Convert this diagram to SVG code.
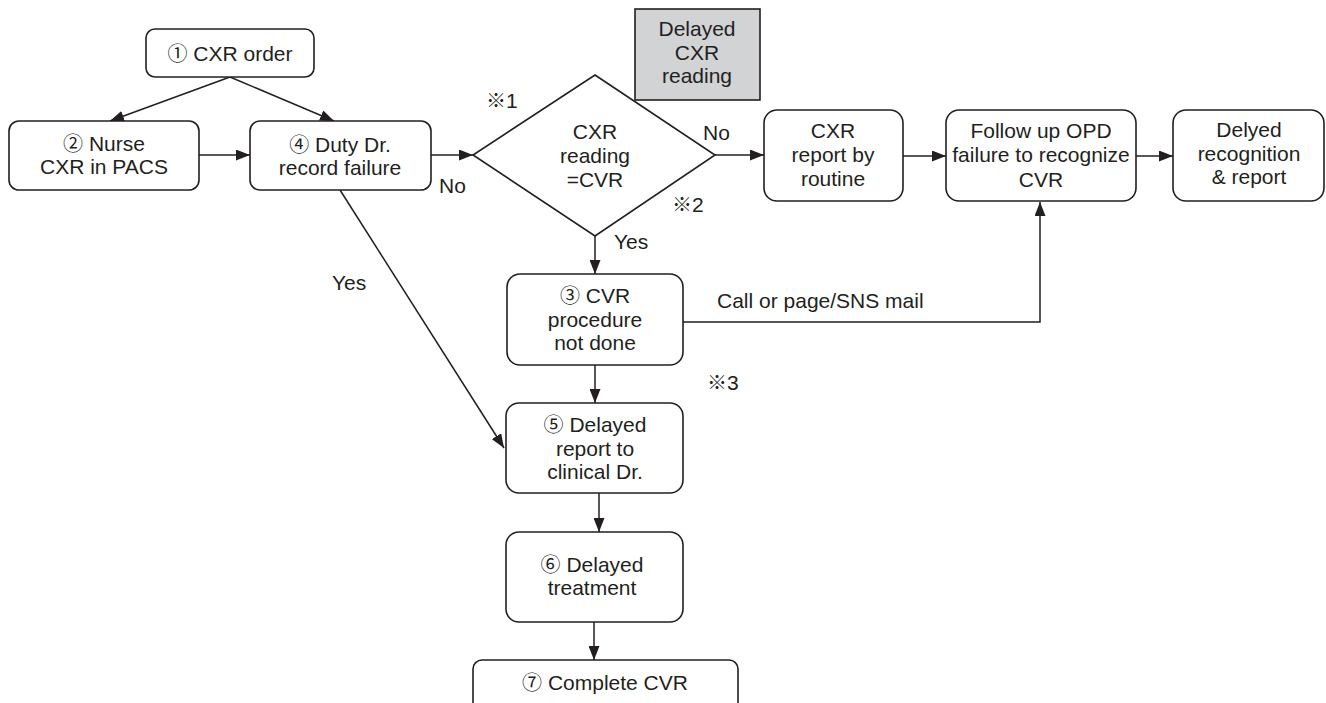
<svg xmlns="http://www.w3.org/2000/svg" width="1326" height="703" viewBox="0 0 1326 703">
  <style>
    .box { fill: #ffffff; stroke: #231f20; stroke-width: 1.6; }
    .shade { fill: #d1d3d4; stroke: #231f20; stroke-width: 1.6; }
    .lbl { font-family: "Liberation Sans", "Noto Sans CJK JP", Arial, sans-serif; font-size: 21px; fill: #231f20; }
    .mid { text-anchor: middle; }
    .num { font-family: "Noto Sans CJK JP", "DejaVu Sans", sans-serif; font-size: 20px; }
    .edge { fill: none; stroke: #231f20; stroke-width: 1.5; }
  </style>
  <defs>
    <marker id="arrow" viewBox="0 0 14 11" refX="14" refY="5.5" markerWidth="14" markerHeight="11" markerUnits="userSpaceOnUse" orient="auto">
      <path d="M0,0 L14,5.5 L0,11 Z" fill="#231f20"/>
    </marker>
  </defs>
  <rect width="1326" height="703" fill="#ffffff"/>

  <!-- connectors -->
  <g id="connectors">
    <line class="edge" x1="230" y1="77" x2="110" y2="121" marker-end="url(#arrow)"/>
    <line class="edge" x1="230" y1="77" x2="334" y2="121" marker-end="url(#arrow)"/>
    <line class="edge" x1="199" y1="155" x2="250" y2="155" marker-end="url(#arrow)"/>
    <line class="edge" x1="431" y1="155" x2="473" y2="155" marker-end="url(#arrow)"/>
    <line class="edge" x1="715" y1="155" x2="764" y2="155" marker-end="url(#arrow)"/>
    <line class="edge" x1="903" y1="156" x2="946" y2="156" marker-end="url(#arrow)"/>
    <line class="edge" x1="1136" y1="156" x2="1173" y2="156" marker-end="url(#arrow)"/>
    <line class="edge" x1="595" y1="236" x2="595" y2="274" marker-end="url(#arrow)"/>
    <line class="edge" x1="340" y1="190" x2="504" y2="448" marker-end="url(#arrow)"/>
    <polyline class="edge" points="683,322 1040,322 1040,202" marker-end="url(#arrow)"/>
    <line class="edge" x1="595" y1="365" x2="595" y2="403" marker-end="url(#arrow)"/>
    <line class="edge" x1="599" y1="493" x2="599" y2="532" marker-end="url(#arrow)"/>
    <line class="edge" x1="594" y1="622" x2="594" y2="660" marker-end="url(#arrow)"/>
  </g>

  <!-- edge labels and notes -->
  <g id="labels">
    <text class="lbl" x="439" y="193">No</text>
    <text class="lbl" x="703" y="140">No</text>
    <text class="lbl" x="614" y="249">Yes</text>
    <text class="lbl" x="332" y="290">Yes</text>
    <text class="lbl" x="717" y="308">Call or page/SNS mail</text>
    <text class="lbl" x="486" y="108"><tspan class="num">※</tspan>1</text>
    <text class="lbl" x="672" y="212"><tspan class="num">※</tspan>2</text>
    <text class="lbl" x="707" y="390"><tspan class="num">※</tspan>3</text>
  </g>

  <g id="n1">
    <rect class="box" x="146" y="29" width="168" height="48" rx="9"/>
    <text class="lbl mid" x="230" y="61"><tspan class="num">①</tspan> CXR order</text>
  </g>

  <g id="n2">
    <rect class="box" x="9" y="121" width="190" height="69" rx="10"/>
    <text class="lbl mid" x="104" y="151"><tspan class="num">②</tspan> Nurse</text>
    <text class="lbl mid" x="104" y="174">CXR in PACS</text>
  </g>

  <g id="n4">
    <rect class="box" x="250" y="121" width="181" height="69" rx="10"/>
    <text class="lbl mid" x="340" y="152"><tspan class="num">④</tspan> Duty Dr.</text>
    <text class="lbl mid" x="340" y="175">record failure</text>
  </g>

  <g id="decision">
    <polygon class="box" points="595,75 715,155 595,236 473,155"/>
    <text class="lbl mid" x="595" y="139">CXR</text>
    <text class="lbl mid" x="595" y="163">reading</text>
    <text class="lbl mid" x="595" y="187">=CVR</text>
  </g>

  <g id="delayed-reading">
    <rect class="shade" x="635" y="9" width="125" height="91"/>
    <text class="lbl mid" x="697" y="36">Delayed</text>
    <text class="lbl mid" x="697" y="60">CXR</text>
    <text class="lbl mid" x="697" y="83">reading</text>
  </g>

  <g id="routine">
    <rect class="box" x="764" y="110" width="139" height="91" rx="13"/>
    <text class="lbl mid" x="833" y="138">CXR</text>
    <text class="lbl mid" x="833" y="162">report by</text>
    <text class="lbl mid" x="833" y="186">routine</text>
  </g>

  <g id="follow-up">
    <rect class="box" x="946" y="110" width="190" height="91" rx="13"/>
    <text class="lbl mid" x="1041" y="138">Follow up OPD</text>
    <text class="lbl mid" x="1041" y="162">failure to recognize</text>
    <text class="lbl mid" x="1041" y="187">CVR</text>
  </g>

  <g id="delyed-recognition">
    <rect class="box" x="1173" y="110" width="151" height="91" rx="13"/>
    <text class="lbl mid" x="1249" y="137">Delyed</text>
    <text class="lbl mid" x="1249" y="161">recognition</text>
    <text class="lbl mid" x="1249" y="184">&amp; report</text>
  </g>

  <g id="n3">
    <rect class="box" x="507" y="274" width="176" height="91" rx="13"/>
    <text class="lbl mid" x="595" y="303"><tspan class="num">③</tspan> CVR</text>
    <text class="lbl mid" x="595" y="327">procedure</text>
    <text class="lbl mid" x="595" y="350">not done</text>
  </g>

  <g id="n5">
    <rect class="box" x="506" y="403" width="177" height="90" rx="13"/>
    <text class="lbl mid" x="595" y="432"><tspan class="num">⑤</tspan> Delayed</text>
    <text class="lbl mid" x="595" y="456">report to</text>
    <text class="lbl mid" x="595" y="479">clinical Dr.</text>
  </g>

  <g id="n6">
    <rect class="box" x="506" y="532" width="177" height="90" rx="13"/>
    <text class="lbl mid" x="592" y="572"><tspan class="num">⑥</tspan> Delayed</text>
    <text class="lbl mid" x="592" y="595">treatment</text>
  </g>

  <g id="n7">
    <rect class="box" x="473" y="660" width="265" height="60" rx="9"/>
    <text class="lbl mid" x="605" y="690"><tspan class="num">⑦</tspan> Complete CVR</text>
  </g>
</svg>
